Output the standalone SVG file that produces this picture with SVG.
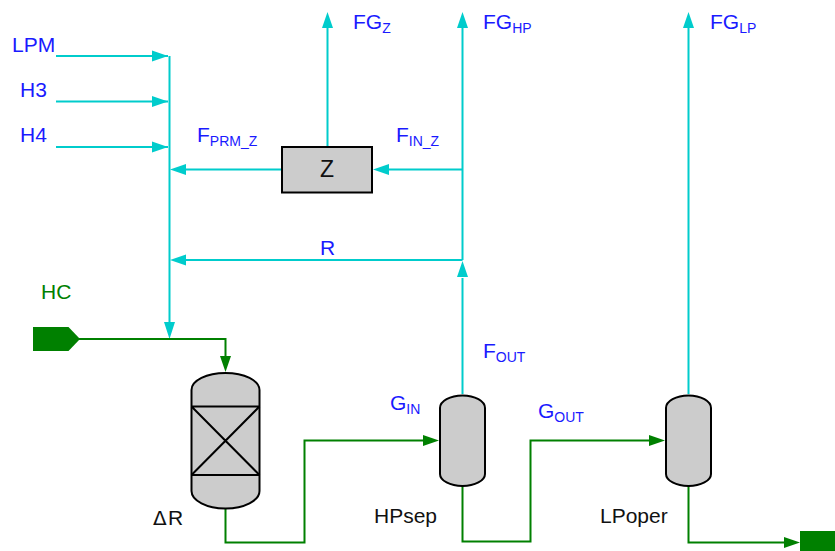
<svg xmlns="http://www.w3.org/2000/svg" width="835" height="551" viewBox="0 0 835 551">
<style>
text{font-family:"Liberation Sans",Arial,sans-serif;font-size:21px}
.b{fill:#1a1aff}.g{fill:#008000}.k{fill:#111}
.s{font-size:14px}
.c{fill:none;stroke:#00cccc;stroke-width:2}
.p{fill:none;stroke:#008000;stroke-width:2}
.v{fill:#cccccc;stroke:#000;stroke-width:2}
.l{fill:none;stroke:#000;stroke-width:2}
.ca{fill:#00cccc}.pa{fill:#008000}
</style>
<rect width="835" height="551" fill="#fff"/>
<g id="connectors">
<path class="c" d="M56 56H168M56 101.500H168M56 147H168M169.500 56V325M282 169.500H186M327.500 146V28M462.500 394V278M462.500 260V28M462.500 169.500H389M462.500 260H186M688.500 394V28"/>
<path class="ca" d="M168 56L152 50.500V61.500ZM168 101.500L152 96V107ZM168 147L152 141.500V152.500ZM170 169.500L186 164V175ZM373 169.500L389 164V175ZM170 260L186 254.500V265.500ZM169.500 339L164 322H175ZM327.500 12L322 28H333ZM462.500 12L457 28H468ZM462.500 261L457 277H468ZM688.500 12L683 28H694Z"/>
<path class="p" d="M78 339H225.500V356M225.500 509V542.500H304.500V440.500H425M462.500 486V541.500H530.500V440.500H650M688.500 486V542.500H785"/>
<path class="pa" d="M225.500 372L220 356H231ZM439 440.500L423 435V446ZM665 440.500L649 435V446ZM800 542.500L784 537V548Z"/>
</g>
<g id="feed-hc"><path class="pa" d="M33 327H68.500L80 339L68.500 351H33Z"/><text class="g" x="41" y="299">HC</text></g>
<g id="product"><rect class="pa" x="800" y="531" width="35" height="20"/></g>
<g id="reactor"><path class="v" d="M191.500 390A34 17 0 0 1 259.500 390V491A34 17.500 0 0 1 191.500 491Z"/><path class="l" d="M191.500 406.500H259.500M191.500 475H259.500M191.500 406.500L259.500 475M259.500 406.500L191.500 475"/><text class="k" x="153" y="525"><tspan font-family="'DejaVu Sans',sans-serif" font-size="20">Δ</tspan><tspan x="168">R</tspan></text></g>
<g id="z"><rect class="v" x="282" y="147" width="90" height="45.500"/><text class="k" x="327" y="177" text-anchor="middle" style="font-size:23px">Z</text></g>
<g id="hpsep"><path class="v" d="M440 408A22.500 12.500 0 0 1 485 408V474A22.500 12 0 0 1 440 474Z"/><text class="k" x="374" y="523">HPsep</text></g>
<g id="lpoper"><path class="v" d="M666 408A22.500 12.500 0 0 1 711 408V474A22.500 12 0 0 1 666 474Z"/><text class="k" x="600" y="523">LPoper</text></g>
<g id="labels">
<text class="b" x="12" y="52">LPM</text>
<text class="b" x="20" y="97">H3</text>
<text class="b" x="20" y="142">H4</text>
<text class="b" x="197" y="142">F<tspan class="s" dy="4">PRM_Z</tspan></text>
<text class="b" x="396" y="142">F<tspan class="s" dy="4">IN_Z</tspan></text>
<text class="b" x="353" y="29">FG<tspan class="s" dy="4">Z</tspan></text>
<text class="b" x="483" y="29">FG<tspan class="s" dy="4">HP</tspan></text>
<text class="b" x="710" y="29">FG<tspan class="s" dy="4">LP</tspan></text>
<text class="b" x="320" y="255">R</text>
<text class="b" x="483" y="358">F<tspan class="s" dy="4">OUT</tspan></text>
<text class="b" x="390" y="410">G<tspan class="s" dy="4">IN</tspan></text>
<text class="b" x="538" y="418">G<tspan class="s" dy="4">OUT</tspan></text>
</g>
</svg>
